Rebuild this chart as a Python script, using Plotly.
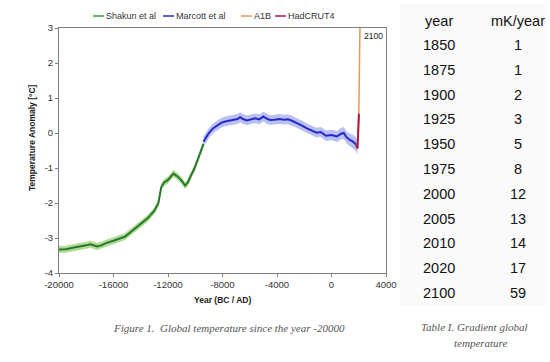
import plotly.graph_objects as go

# ---------------- data ----------------
shakun_years = [-20000, -19500, -19000, -18500, -18000, -17700, -17400, -17200, -16900, -16500,
                -16000, -15500, -15150, -14800, -14500, -14000, -13500, -13000, -12700, -12500,
                -12300, -12000, -11800, -11600, -11300, -11000, -10750, -10550, -10300, -10100,
                -9900, -9650, -9400]
shakun_temp = [-3.33, -3.32, -3.28, -3.25, -3.21, -3.18, -3.22, -3.24, -3.21, -3.14,
               -3.08, -3.01, -2.96, -2.85, -2.76, -2.60, -2.44, -2.22, -2.00, -1.55,
               -1.42, -1.34, -1.24, -1.16, -1.24, -1.36, -1.50, -1.42, -1.20, -1.05,
               -0.85, -0.60, -0.32]
shakun_err = [0.1] * len(shakun_years)

marcott_years = [-9400, -9200, -9000, -8700, -8400, -8100, -7800, -7500, -7200, -6900,
                 -6700, -6500, -6200, -5900, -5600, -5300, -5000, -4700, -4500, -4200,
                 -3800, -3500, -3200, -2900, -2550, -2200, -1800, -1500, -1100, -800,
                 -400, 0, 400, 700, 900, 1100, 1350, 1600, 1800, 1900]
marcott_temp = [-0.25, -0.12, 0.00, 0.13, 0.22, 0.29, 0.33, 0.36, 0.38, 0.40,
                0.45, 0.40, 0.36, 0.40, 0.42, 0.39, 0.47, 0.40, 0.37, 0.38,
                0.40, 0.38, 0.39, 0.35, 0.29, 0.22, 0.13, 0.08, 0.01, 0.03,
                -0.08, -0.06, -0.10, -0.02, 0.00, -0.12, -0.20, -0.25, -0.33, -0.42]
marcott_err = [0.14, 0.14, 0.14, 0.14, 0.14, 0.14, 0.14, 0.14, 0.14, 0.14,
               0.14, 0.14, 0.14, 0.14, 0.14, 0.14, 0.14, 0.14, 0.14, 0.14,
               0.14, 0.14, 0.14, 0.14, 0.14, 0.14, 0.14, 0.14, 0.14, 0.14,
               0.15, 0.15, 0.16, 0.16, 0.17, 0.17, 0.18, 0.19, 0.20, 0.21]

hadcrut_years = [1850, 1880, 1910, 1940, 1970, 1990, 2000, 2012]
hadcrut_temp = [-0.40, -0.35, -0.45, -0.10, -0.05, 0.20, 0.35, 0.55]

a1b_years = [1850, 1950, 2000, 2050, 2100]
a1b_temp = [-0.40, -0.20, 0.40, 1.90, 3.40]

x_ticks = [-20000, -16000, -12000, -8000, -4000, 0, 4000]
y_ticks = [-4, -3, -2, -1, 0, 1, 2, 3]

table_years = ["1850", "1875", "1900", "1925", "1950", "1975", "2000", "2005", "2010", "2020", "2100"]
table_gradient = ["1", "1", "2", "3", "5", "8", "12", "13", "14", "17", "59"]

series_names = ["Shakun et al", "Marcott et al", "A1B", "HadCRUT4"]
series_colors = ["#3c9a3c", "#2828c8", "#e39a5a", "#b3173f"]

# ---------------- layout helpers ----------------
W, H = 550, 362
L, R, T, B = 59, 386, 28, 273
def px(x):
    return (x - L) / (R - L)
def py(y):
    return (B - y) / (B - T)

SANS = "Liberation Sans, Arial, sans-serif"
SERIF = "Liberation Serif, DejaVu Serif, serif"

fig = go.Figure()

def band(xs, ys, es, fillcolor):
    upper = [y + e for y, e in zip(ys, es)]
    lower = [y - e for y, e in zip(ys, es)]
    fig.add_trace(go.Scatter(x=xs + xs[::-1], y=upper + lower[::-1], fill="toself",
                             fillcolor=fillcolor, line=dict(width=0), mode="lines",
                             hoverinfo="skip", showlegend=False))

band(shakun_years, shakun_temp, shakun_err, "rgba(160,210,125,0.8)")
band(marcott_years, marcott_temp, marcott_err, "rgba(155,165,240,0.7)")

fig.add_trace(go.Scatter(x=shakun_years, y=shakun_temp, mode="lines", name=series_names[0],
                         line=dict(color="#26782a", width=2), showlegend=False))
fig.add_trace(go.Scatter(x=marcott_years, y=marcott_temp, mode="lines", name=series_names[1],
                         line=dict(color=series_colors[1], width=2), showlegend=False))
fig.add_trace(go.Scatter(x=a1b_years, y=a1b_temp, mode="lines", name=series_names[2],
                         line=dict(color=series_colors[2], width=1.5), showlegend=False))
fig.add_trace(go.Scatter(x=hadcrut_years, y=hadcrut_temp, mode="lines", name=series_names[3],
                         line=dict(color=series_colors[3], width=2), showlegend=False))

axis_common = dict(showgrid=False, zeroline=False, showline=True, linecolor="#7f7f7f",
                   linewidth=1, mirror=True, ticks="outside", ticklen=3, tickcolor="#7f7f7f",
                   tickfont=dict(family=SANS, size=9.5, color="#333333"))

fig.update_layout(
    width=W, height=H,
    margin=dict(l=L, r=W - R, t=T, b=H - B, pad=0, autoexpand=False),
    paper_bgcolor="white", plot_bgcolor="white",
    xaxis=dict(range=[-20000, 4000], tickvals=x_ticks, ticktext=[str(v) for v in x_ticks],
               **axis_common),
    yaxis=dict(range=[-4, 3], tickvals=y_ticks, ticktext=[str(v) for v in y_ticks],
               **axis_common),
    showlegend=False,
)

annotations = []
shapes = []

# table background
shapes.append(dict(type="rect", xref="paper", yref="paper", x0=px(400), x1=px(546),
                   y0=py(305), y1=py(4), fillcolor="#fafafa", line=dict(width=0), layer="below"))

# manual legend
legend_x = [93, 163, 241, 275]
legend_y = 16
for name, col, lx in zip(series_names, series_colors, legend_x):
    shapes.append(dict(type="line", xref="paper", yref="paper", x0=px(lx), x1=px(lx + 11),
                       y0=py(legend_y), y1=py(legend_y), line=dict(color=col, width=1.5)))
    annotations.append(dict(text=name, xref="paper", yref="paper", x=px(lx + 11), y=py(legend_y),
                            xanchor="left", yanchor="middle", showarrow=False,
                            font=dict(family=SANS, size=9, color="#333333")))

# axis titles
annotations.append(dict(text="<b>Temperature Anomaly [°C]</b>", xref="paper", yref="paper",
                        x=px(32), y=py(138), textangle=-90, showarrow=False,
                        xanchor="center", yanchor="middle",
                        font=dict(family=SANS, size=8.5, color="#222222")))
annotations.append(dict(text="<b>Year (BC / AD)</b>", xref="paper", yref="paper",
                        x=px(223), y=py(300), showarrow=False, xanchor="center", yanchor="middle",
                        font=dict(family=SANS, size=8.5, color="#222222")))

# 2100 label
annotations.append(dict(text="2100", x=2100, y=3, xref="x", yref="y", xanchor="left",
                        yanchor="top", xshift=2, yshift=-1, showarrow=False,
                        font=dict(family=SANS, size=8.5, color="#222222")))

# captions
annotations.append(dict(text="<i>Figure 1.  Global temperature since the year -20000</i>",
                        xref="paper", yref="paper", x=px(229), y=py(328), showarrow=False,
                        xanchor="center", yanchor="middle",
                        font=dict(family=SERIF, size=11, color="#555555")))
annotations.append(dict(text="<i>Table I. Gradient global</i>", xref="paper", yref="paper",
                        x=px(474), y=py(327), showarrow=False, xanchor="center", yanchor="middle",
                        font=dict(family=SERIF, size=11, color="#555555")))
annotations.append(dict(text="<i>temperature</i>", xref="paper", yref="paper",
                        x=px(480), y=py(343), showarrow=False, xanchor="center", yanchor="middle",
                        font=dict(family=SERIF, size=11, color="#555555")))

# table
col_year_x, col_grad_x = 439, 518
row0_y, row_dy = 45, 24.8
tfont = dict(family=SANS, size=14.5, color="#111111")
annotations.append(dict(text="year", xref="paper", yref="paper", x=px(col_year_x), y=py(21),
                        showarrow=False, xanchor="center", yanchor="middle", font=tfont))
annotations.append(dict(text="mK/year", xref="paper", yref="paper", x=px(col_grad_x), y=py(21),
                        showarrow=False, xanchor="center", yanchor="middle", font=tfont))
for i, (yr, g) in enumerate(zip(table_years, table_gradient)):
    yy = row0_y + i * row_dy
    annotations.append(dict(text=yr, xref="paper", yref="paper", x=px(col_year_x), y=py(yy),
                            showarrow=False, xanchor="center", yanchor="middle", font=tfont))
    annotations.append(dict(text=g, xref="paper", yref="paper", x=px(col_grad_x), y=py(yy),
                            showarrow=False, xanchor="center", yanchor="middle", font=tfont))

fig.update_layout(annotations=annotations, shapes=shapes)
fig.write_html("out.html", config={"displayModeBar": False},
               post_script="document.body.style.margin='0';document.body.style.padding='0';")
